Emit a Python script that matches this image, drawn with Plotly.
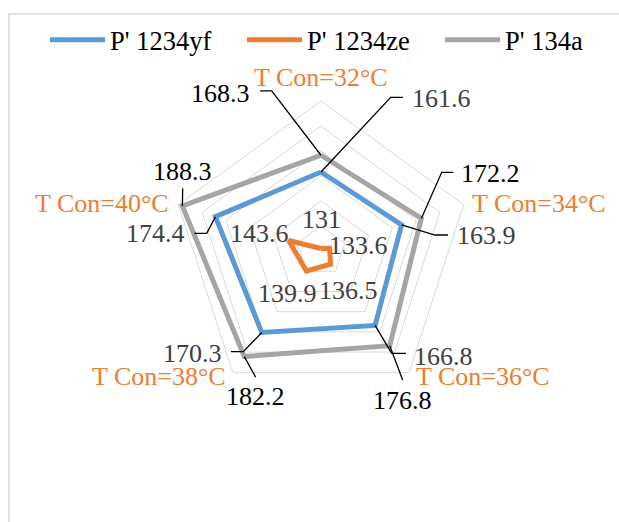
import math
import plotly.graph_objects as go

# ---------------- data ----------------
categories = ["T Con=32°C", "T Con=34°C", "T Con=36°C", "T Con=38°C", "T Con=40°C"]
series_names = ["P' 1234yf", "P' 1234ze", "P' 134a"]
p_1234yf = [161.6, 163.9, 166.8, 170.3, 174.4]
p_1234ze = [131, 133.6, 136.5, 139.9, 143.6]
p_134a = [168.3, 172.2, 176.8, 182.2, 188.3]
radial_range = [130, 190]
radial_step = 10

# ---------------- layout / style ----------------
W, H = 619, 522
CX, CY, R = 321, 251, 150          # polar centre and radius in pixels
FONT = "Liberation Serif"
colors = ["#5B9BD5", "#ED7D31", "#A5A5A5"]
label_colors = ["#404040", "#404040", "#000000"]
legend_ids = ["legend", "legend2", "legend3"]
legend_x_px = [45, 242, 440]       # left edge of each legend entry
legend_y_px = 40

# label centre offsets (px, screen y down) relative to each data point
label_off = [
    [(120.5, -73.7), (84.4, 10.7), (68.8, 31.3), (-68.8, 20.8), (-60.0, 17.3)],
    [(0.0, -29.5), (29.1, -3.2), (17.8, 25.9), (-18.5, 22.3), (-29.2, -7.2)],
    [(-100.1, -62.0), (69.6, -45.1), (12.7, 55.0), (11.0, 40.1), (0.0, -34.0)],
]
# leader line way-points (px offsets from the data point); None = no leader
leader_off = [
    [[(69.7, -74.7), (82, -74.7)], [(33.4, 10.2), (46.4, 10.2)], [(16.6, 27.9), (30.9, 27.9)],
     [(-18.5, 19.2), (-30.8, 19.2)], [(-8.7, 16.6), (-21.1, 16.6)]],
    [None] * 5,
    [[(-49.3, -64.3), (-61, -64.3)], [(20.4, -46.1), (32, -46.1)], [(12.9, 34.3)],
     [(11.4, 20.7)], [(0.3, -17.7)]],
]
# category label placement relative to the outer vertex: (dx, dy, xanchor)
cat_off = [(0, -24, "center"), (6.5, -1.6, "left"), (5.0, 4.6, "left"),
           (-5.0, 4.6, "right"), (-7.5, -1.6, "right")]

series_values = [p_1234yf, p_1234ze, p_134a]


def to_px(value, i):
    rp = (value - radial_range[0]) / (radial_range[1] - radial_range[0]) * R
    ang = math.radians(90 - 360 * i / len(categories))
    return CX + rp * math.cos(ang), CY - rp * math.sin(ang)


def paper(px, py):
    return px / W, 1 - py / H


fig = go.Figure()
for name, vals, col, lg in zip(series_names, series_values, colors, legend_ids):
    fig.add_trace(go.Scatterpolar(
        r=vals + vals[:1], theta=categories + categories[:1], mode="lines",
        name=name, line=dict(color=col, width=5), subplot="polar", legend=lg,
    ))

annotations = []
shapes = []
for s, vals in enumerate(series_values):
    for i, v in enumerate(vals):
        px, py = to_px(v, i)
        dx, dy = label_off[s][i]
        lx, ly = paper(px + dx, py + dy)
        annotations.append(dict(
            x=lx, y=ly, xref="paper", yref="paper", text=f"{v:g}", showarrow=False,
            xanchor="center", yanchor="middle",
            font=dict(family=FONT, size=26, color=label_colors[s]),
        ))
        pts = leader_off[s][i]
        if pts:
            path = "M {} {}".format(*paper(px, py))
            for (ox, oy) in pts:
                path += " L {} {}".format(*paper(px + ox, py + oy))
            shapes.append(dict(type="path", xref="paper", yref="paper", path=path,
                               line=dict(color="#000000", width=1.3)))

# category labels at the outer ring
for i, cat in enumerate(categories):
    px, py = to_px(radial_range[1], i)
    dx, dy, xa = cat_off[i]
    lx, ly = paper(px + dx, py + dy)
    annotations.append(dict(
        x=lx, y=ly, xref="paper", yref="paper", text=cat, showarrow=False,
        xanchor=xa, yanchor="middle",
        font=dict(family=FONT, size=26, color="#ED7D31"),
    ))

# chart-area border
shapes.append(dict(type="rect", xref="paper", yref="paper", x0=9 / W, x1=1.05,
                   y0=-0.05, y1=1 - 14 / H, line=dict(color="#D9D9D9", width=1.5),
                   layer="below"))

legends = {}
for lg, lxp in zip(legend_ids, legend_x_px):
    legends[lg] = dict(orientation="h", x=lxp / W, y=1 - legend_y_px / H,
                       xanchor="left", yanchor="middle", itemwidth=55,
                       font=dict(family=FONT, size=26.5, color="#000000"),
                       bgcolor="rgba(0,0,0,0)")

fig.update_layout(
    width=W, height=H, margin=dict(l=0, r=0, t=0, b=0),
    paper_bgcolor="white", plot_bgcolor="white",
    font=dict(family=FONT, size=26, color="#000000"),
    polar=dict(
        domain=dict(x=[(CX - R) / W, (CX + R) / W], y=[(H - CY - R) / H, (H - CY + R) / H]),
        gridshape="linear", bgcolor="white",
        radialaxis=dict(range=radial_range, dtick=radial_step, tick0=radial_range[0],
                        showticklabels=False, ticks="", showline=False,
                        gridcolor="#D9D9D9", gridwidth=1),
        angularaxis=dict(direction="clockwise", rotation=90, showgrid=False,
                         showline=True, linecolor="#D9D9D9", linewidth=1, ticks="",
                         showticklabels=False),
    ),
    showlegend=True,
    annotations=annotations, shapes=shapes,
    **legends,
)

fig.write_html("out.html")
